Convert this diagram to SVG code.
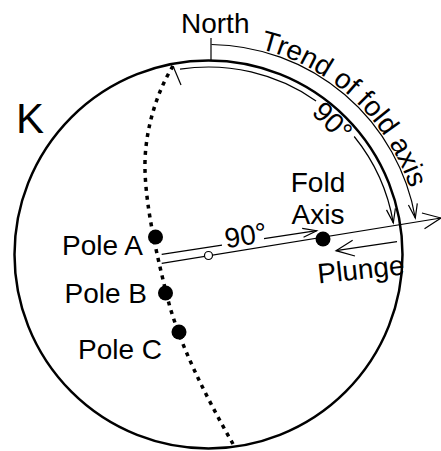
<svg xmlns="http://www.w3.org/2000/svg" width="441" height="451" viewBox="0 0 441 451">
<style>
.t{font-family:"Liberation Sans",Arial,sans-serif;font-size:28px;fill:#000}
.thin{fill:none;stroke:#000;stroke-width:1.2}
.dot{fill:#000}
</style>
<defs>
<marker id="ah" markerUnits="userSpaceOnUse" orient="auto" overflow="visible" refX="0" refY="0" markerWidth="1" markerHeight="1">
<path d="M-14,-4.5 L0,0 L-14,4.5" fill="none" stroke="#000" stroke-width="1.2"/>
</marker>
<marker id="ahL" markerUnits="userSpaceOnUse" orient="auto" overflow="visible" refX="0" refY="0" markerWidth="1" markerHeight="1">
<path d="M-18,-8 L0,0 L-18,8" fill="none" stroke="#000" stroke-width="1.2"/>
</marker>
<path id="trendPath" d="M259.8,48.8 A212,212 0 0 1 420.5,254.5"/>
</defs>
<rect width="441" height="451" fill="#fff"/>
<g id="net">
<circle cx="208.5" cy="254.5" r="194" fill="none" stroke="#000" stroke-width="2.5"/>
<text class="t" x="16" y="133" style="font-size:42px">K</text>
</g>
<g id="connectors">
<path id="greatCircle" d="M173,66 C155,95 144,135 145,170 C146,210 158,260 168,300 C180,345 205,395 233,444" fill="none" stroke="#000" stroke-width="3.5" stroke-dasharray="4 5"/>
<line class="thin" x1="211" y1="38" x2="211" y2="60"/>
<path class="thin" d="M211.5,44.5 A210,210 0 0 1 415.3,218" marker-end="url(#ah)"/>
<line class="thin" x1="173" y1="66" x2="181" y2="85"/>
<path class="thin" d="M180,69.2 A187.5,187.5 0 0 1 316.05,100.9"/>
<path class="thin" d="M354.2,136.5 A187.5,187.5 0 0 1 393.3,222.9" marker-end="url(#ah)"/>
<line class="thin" x1="161.7" y1="254.3" x2="222" y2="245.1"/>
<line class="thin" x1="264" y1="238.7" x2="316.7" y2="230.7" marker-end="url(#ah)"/>
<line class="thin" x1="161.7" y1="263.3" x2="441" y2="218" marker-end="url(#ahL)"/>
<line class="thin" x1="397" y1="241.7" x2="336" y2="250.7" marker-end="url(#ahL)"/>
<circle cx="208.5" cy="255.5" r="4" fill="#fff" stroke="#000" stroke-width="1.2"/>
</g>
<g id="north"><text class="t" x="181" y="33">North</text></g>
<g id="trend"><text class="t"><textPath href="#trendPath">Trend of fold axis</textPath></text></g>
<g id="trendAngle"><text class="t" x="332.6" y="131" text-anchor="middle" transform="rotate(45 332.6 121.4)">90°</text></g>
<g id="foldAxis">
<circle class="dot" cx="323" cy="239" r="7.5"/>
<text class="t" x="318" y="192" text-anchor="middle">Fold</text>
<text class="t" x="318" y="224" text-anchor="middle">Axis</text>
</g>
<g id="lineAngle"><text class="t" x="246" y="245" text-anchor="middle" transform="rotate(-9 246 237)">90°</text></g>
<g id="plunge"><text class="t" x="361" y="279" text-anchor="middle" transform="rotate(-6 361 270)">Plunge</text></g>
<g id="poleA"><circle class="dot" cx="155.5" cy="237" r="7.5"/><text class="t" x="62" y="255">Pole A</text></g>
<g id="poleB"><circle class="dot" cx="165.5" cy="293" r="7.5"/><text class="t" x="64.5" y="303">Pole B</text></g>
<g id="poleC"><circle class="dot" cx="179" cy="332" r="7.5"/><text class="t" x="78" y="359">Pole C</text></g>
</svg>
